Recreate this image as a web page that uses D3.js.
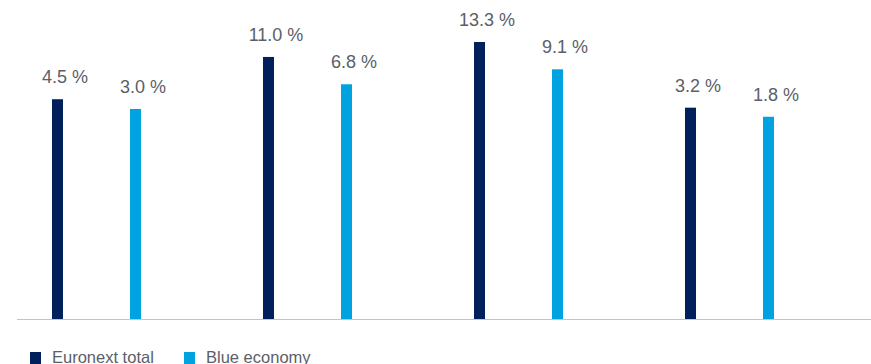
<!DOCTYPE html>
<html>
<head>
<meta charset="utf-8">
<script src="https://cdn.jsdelivr.net/npm/d3@7"></script>
<style>
  html, body { margin: 0; padding: 0; background: #fff; }
  svg { display: block; }
  text { font-family: "Liberation Sans", Arial, sans-serif; }
</style>
</head>
<body>
<svg id="chart" width="871" height="364"></svg>
<script>
const categories = ["Group 1", "Group 2", "Group 3", "Group 4"];
const seriesNames = ["Euronext total", "Blue economy"];
const euronextTotal = [4.5, 11.0, 13.3, 3.2];
const blueEconomy = [3.0, 6.8, 9.1, 1.8];
const seriesColors = ["#00205B", "#00A3E0"];

const seriesValues = [euronextTotal, blueEconomy];
const rows = [];
categories.forEach((c, i) => {
  seriesNames.forEach((s, j) => rows.push({ cat: c, series: s, value: seriesValues[j][i], color: seriesColors[j] }));
});

const svg = d3.select("#chart");
const baseY = 319;

const x0 = d3.scaleBand().domain(categories).range([-9, 835]).padding(0);
const x1 = d3.scalePoint().domain(seriesNames).range([-39, 39]);
const y = d3.scaleLinear().domain([-29.3, 13.3]).range([baseY, 42]);
const barW = 11;

const cx = d => x0(d.cat) + x0.bandwidth() / 2 + x1(d.series);

svg.append("g").selectAll("rect").data(rows).join("rect")
  .attr("x", d => cx(d) - barW / 2)
  .attr("y", d => y(d.value))
  .attr("width", barW)
  .attr("height", d => y(-29.3) - y(d.value))
  .attr("fill", d => d.color);

svg.append("line")
  .attr("x1", 17).attr("x2", 871)
  .attr("y1", baseY + 0.5).attr("y2", baseY + 0.5)
  .attr("stroke", "#c4c4c4").attr("stroke-width", 1.2);

const fmt = d3.format(".1f");
svg.append("g").selectAll("text").data(rows).join("text")
  .attr("x", d => cx(d) + 7.5)
  .attr("y", d => y(d.value) - 16)
  .attr("text-anchor", "middle")
  .attr("font-size", 18)
  .attr("fill", "#5b6068")
  .text(d => fmt(d.value) + " %");

const legend = svg.append("g");
const legX = [30, 184];
seriesNames.forEach((s, j) => {
  legend.append("rect").attr("x", legX[j]).attr("y", 352).attr("width", 11).attr("height", 12).attr("fill", seriesColors[j]);
  legend.append("text").attr("x", legX[j] + 22).attr("y", 362.5)
    .attr("font-size", 16.5).attr("fill", "#5b6068").text(s);
});
</script>
</body>
</html>
